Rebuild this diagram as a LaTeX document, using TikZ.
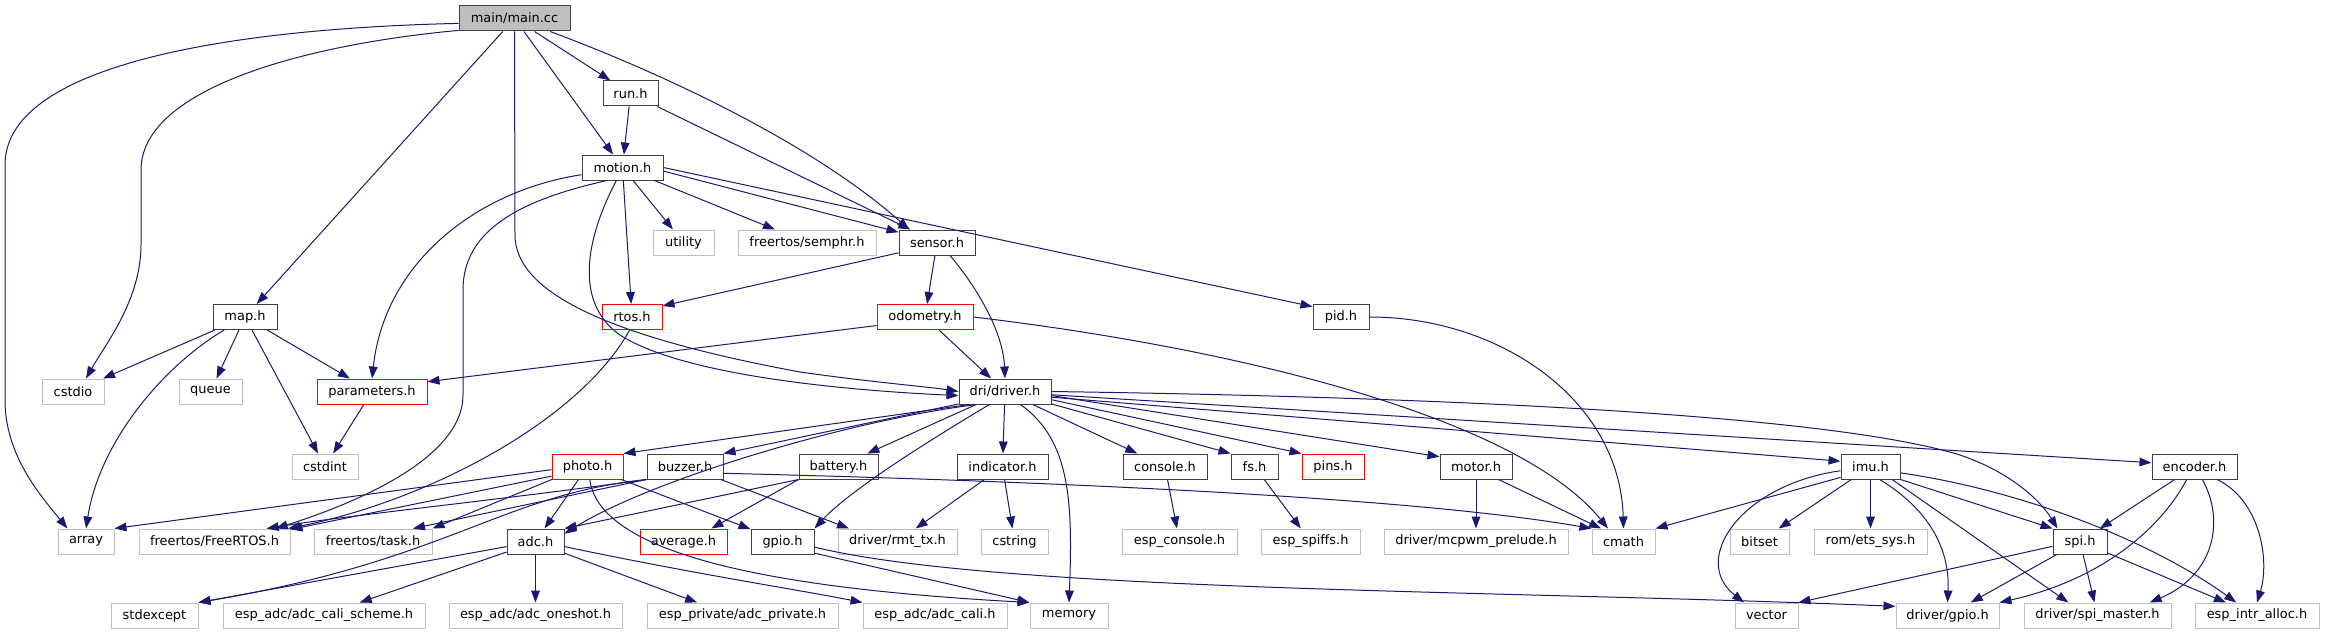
\documentclass[tikz,border=0pt]{standalone}
\usepackage{fontspec}
\setmainfont{DejaVu Sans}
\usetikzlibrary{arrows.meta}
\definecolor{edgec}{RGB}{25,25,112}
\definecolor{extc}{RGB}{191,191,191}
\definecolor{mainf}{RGB}{191,191,191}
\definecolor{knownc}{RGB}{64,64,64}
\definecolor{truncc}{RGB}{255,0,0}
\begin{document}
\begin{tikzpicture}[x=0.75pt,y=-0.75pt,
 box/.style={draw, line width=0.75pt, minimum height=18.75pt, inner sep=0pt, font=\fontsize{9.7}{11}\selectfont, text=black},
 bw/.style={minimum width=#1*0.75pt},
 known/.style={box, draw=knownc, fill=white},
 ext/.style={box, draw=extc, fill=white},
 trunc/.style={box, draw=truncc, fill=white},
 mainbox/.style={box, draw=knownc, fill=mainf},
 dep/.style={draw=edgec, line width=0.75pt, -{Triangle[length=9pt,width=6.5pt]}},
]
\useasboundingbox (0,0) rectangle (2325,635);
% nodes
\node[mainbox,bw=111] (main) at (514.5,18.5) {main/main.cc};
\node[known,bw=55] (run) at (630.5,93.5) {run.h};
\node[known,bw=81] (motion) at (622.5,167.5) {motion.h};
\node[ext,bw=61] (utility) at (683.5,242.5) {utility};
\node[ext,bw=138] (semphr) at (807,242.5) {freertos/semphr.h};
\node[known,bw=76] (sensor) at (937,242.5) {sensor.h};
\node[known,bw=64] (map) at (245,317) {map.h};
\node[trunc,bw=60] (rtos) at (632,317) {rtos.h};
\node[trunc,bw=96] (odom) at (925,317) {odometry.h};
\node[known,bw=56] (pid) at (1341,317) {pid.h};
\node[ext,bw=62] (cstdio) at (73,391.5) {cstdio};
\node[ext,bw=63] (queue) at (210.5,391.5) {queue};
\node[trunc,bw=110] (params) at (372,391.5) {parameters.h};
\node[known,bw=92] (driver) at (1005,391.5) {dri/driver.h};
\node[ext,bw=66] (cstdint) at (325,466.5) {cstdint};
\node[trunc,bw=71] (photo) at (587.5,466.5) {photo.h};
\node[known,bw=76] (buzzer) at (685,466.5) {buzzer.h};
\node[known,bw=79] (battery) at (838.5,466.5) {battery.h};
\node[known,bw=91] (indicator) at (1002.5,466.5) {indicator.h};
\node[known,bw=84] (console) at (1165,466.5) {console.h};
\node[known,bw=47] (fs) at (1254.5,466.5) {fs.h};
\node[trunc,bw=62] (pins) at (1333,466.5) {pins.h};
\node[known,bw=72] (motor) at (1476,466.5) {motor.h};
\node[known,bw=59] (imu) at (1870.5,466.5) {imu.h};
\node[known,bw=85] (encoder) at (2194.5,466.5) {encoder.h};
\node[ext,bw=56] (array) at (86,541.5) {array};
\node[ext,bw=151] (freertos) at (214.5,541.5) {freertos/FreeRTOS.h};
\node[ext,bw=118] (task) at (373,541.5) {freertos/task.h};
\node[known,bw=57] (adc) at (535.5,541.5) {adc.h};
\node[trunc,bw=87] (average) at (683.5,541.5) {average.h};
\node[known,bw=63] (gpio) at (782.5,541.5) {gpio.h};
\node[ext,bw=119] (rmt) at (897.5,541.5) {driver/rmt\_tx.h};
\node[ext,bw=67] (cstring) at (1014.5,541.5) {cstring};
\node[ext,bw=115] (espconsole) at (1179.5,541.5) {esp\_console.h};
\node[ext,bw=99] (spiffs) at (1310.5,541.5) {esp\_spiffs.h};
\node[ext,bw=184] (mcpwm) at (1476,541.5) {driver/mcpwm\_prelude.h};
\node[ext,bw=63] (cmath) at (1623.5,541.5) {cmath};
\node[ext,bw=59] (bitset) at (1759.5,541.5) {bitset};
\node[ext,bw=113] (ets) at (1870.5,541.5) {rom/ets\_sys.h};
\node[known,bw=54] (spi) at (2080,541.5) {spi.h};
\node[ext,bw=87] (stdexcept) at (154.5,615.5) {stdexcept};
\node[ext,bw=202] (calischeme) at (324,615.5) {esp\_adc/adc\_cali\_scheme.h};
\node[ext,bw=173] (oneshot) at (535.5,615.5) {esp\_adc/adc\_oneshot.h};
\node[ext,bw=191] (adcpriv) at (742.5,615.5) {esp\_private/adc\_private.h};
\node[ext,bw=144] (cali) at (935,615.5) {esp\_adc/adc\_cali.h};
\node[ext,bw=78] (memory) at (1069,615.5) {memory};
\node[ext,bw=63] (vector) at (1766.5,615.5) {vector};
\node[ext,bw=103] (drvgpio) at (1947.5,615.5) {driver/gpio.h};
\node[ext,bw=147] (spimaster) at (2097.5,615.5) {driver/spi\_master.h};
\node[ext,bw=124] (intr) at (2257,615.5) {esp\_intr\_alloc.h};
% main.cc
\draw[dep] (main.185) .. controls (250,28) and (5,60) .. (5,165) -- (5,400) .. controls (5,455) and (40,495) .. (array.145);
\draw[dep] (main.192) .. controls (300,45) and (141,90) .. (141,170) -- (141,245) .. controls (141,300) and (105,345) .. (cstdio.45);
\draw[dep] (main) -- (map);
\draw[dep] (main.south) -- (515,235) .. controls (515,290) and (600,335) .. (800,372) .. controls (870,382) and (930,387) .. (driver.west);
\draw[dep] (main) -- (motion);
\draw[dep] (main) -- (run);
\draw[dep] (main.-20) .. controls (680,80) and (820,150) .. (sensor.155);
% run.h
\draw[dep] (run) -- (motion);
\draw[dep] (run) -- (sensor);
% motion.h
\draw[dep] (motion.190) .. controls (480,190) and (385,260) .. (params.north);
\draw[dep] (motion.220) .. controls (520,200) and (463,230) .. (463,290) -- (463,395) .. controls (463,460) and (350,505) .. (freertos.12);
\draw[dep] (motion.245) .. controls (590,230) and (570,300) .. (620,335) .. controls (690,380) and (880,392) .. (driver.185);
\draw[dep] (motion) -- (rtos);
\draw[dep] (motion) -- (utility);
\draw[dep] (motion) -- (semphr);
\draw[dep] (motion.-5) -- (sensor.165);
\draw[dep] (motion.east) -- (pid.160);
% sensor.h
\draw[dep] (sensor.195) -- (rtos.20);
\draw[dep] (sensor) -- (odom);
\draw[dep] (sensor.-45) .. controls (975,285) and (1003,330) .. (driver.north);
% map.h
\draw[dep] (map) -- (cstdio);
\draw[dep] (map) -- (queue);
\draw[dep] (map.212) .. controls (165,365) and (100,440) .. (array.north);
\draw[dep] (map) -- (cstdint);
\draw[dep] (map) -- (params);
\draw[dep] (params) -- (cstdint);
% rtos.h
\draw[dep] (rtos.-100) .. controls (580,420) and (430,500) .. (freertos.10);
% odometry.h
\draw[dep] (odom.190) -- (params.10);
\draw[dep] (odom) -- (driver);
\draw[dep] (odom.east) .. controls (1250,350) and (1520,420) .. (cmath.140);
% pid.h
\draw[dep] (pid.east) .. controls (1500,317) and (1620,400) .. (cmath.north);
% driver.h
\draw[dep] (driver.200) -- (photo.north east);
\draw[dep] (driver.195) -- (buzzer.north east);
\draw[dep] (driver.205) .. controls (850,420) and (650,480) .. (adc.15);
\draw[dep] (driver) -- (battery);
\draw[dep] (driver.-140) .. controls (930,440) and (850,490) .. (gpio.north east);
\draw[dep] (driver) -- (indicator);
\draw[dep] (driver.-40) .. controls (1070,440) and (1073,500) .. (memory.north);
\draw[dep] (driver) -- (console);
\draw[dep] (driver.-15) -- (fs.north west);
\draw[dep] (driver.-10) -- (pins.north west);
\draw[dep] (driver.-5) -- (motor.165);
\draw[dep] (driver.-7) -- (imu.170);
\draw[dep] (driver.-4) -- (encoder.175);
\draw[dep] (driver.east) .. controls (1500,398) and (1840,418) .. (1960,455) .. controls (2010,472) and (2040,500) .. (spi.150);
% photo.h
\draw[dep] (photo.185) -- (array.north east);
\draw[dep] (photo.195) -- (freertos.9);
\draw[dep] (photo.200) -- (task.north east);
\draw[dep] (photo) -- (adc);
\draw[dep] (photo) -- (gpio);
\draw[dep] (photo.-80) .. controls (600,560) and (800,590) .. (memory.north west);
% buzzer.h
\draw[dep] (buzzer.south west) .. controls (500,500) and (350,515) .. (freertos.14);
\draw[dep] (buzzer.south west) -- (task.18);
\draw[dep] (buzzer.-10) .. controls (1000,480) and (1400,495) .. (cmath.north west);
\draw[dep] (buzzer.-20) -- (rmt.165);
\draw[dep] (buzzer.south west) .. controls (500,495) and (450,560) .. (stdexcept.north east);
% battery.h
\draw[dep] (battery.south west) -- (adc.north east);
\draw[dep] (battery.south west) -- (average.25);
% adc.h
\draw[dep] (adc.190) -- (stdexcept.north east);
\draw[dep] (adc.200) -- (calischeme.20);
\draw[dep] (adc) -- (oneshot);
\draw[dep] (adc.-22) -- (adcpriv.164);
\draw[dep] (adc.-10) .. controls (700,575) and (800,590) .. (cali.north west);
% gpio.h
\draw[dep] (gpio.-20) -- (memory.north west);
\draw[dep] (gpio.-10) .. controls (1000,592) and (1500,590) .. (drvgpio.170);
% indicator, console, fs, motor
\draw[dep] (indicator) -- (rmt);
\draw[dep] (indicator) -- (cstring);
\draw[dep] (console) -- (espconsole);
\draw[dep] (fs) -- (spiffs);
\draw[dep] (motor) -- (mcpwm);
\draw[dep] (motor.-30) -- (cmath.150);
% imu.h
\draw[dep] (imu.200) -- (cmath.north east);
\draw[dep] (imu.188) .. controls (1740,485) and (1690,560) .. (vector.150);
\draw[dep] (imu) -- (bitset);
\draw[dep] (imu) -- (ets);
\draw[dep] (imu.-55) .. controls (1930,510) and (1950,550) .. (drvgpio.north);
\draw[dep] (imu.-31) -- (spimaster.156);
\draw[dep] (imu.south east) -- (spi.north west);
\draw[dep] (imu.-12) .. controls (2020,490) and (2150,540) .. (intr.148);
% encoder.h
\draw[dep] (encoder) -- (spi);
\draw[dep] (encoder.-121) .. controls (2160,530) and (2100,580) .. (drvgpio.north east);
\draw[dep] (encoder.-59) .. controls (2225,520) and (2215,575) .. (spimaster.14);
\draw[dep] (encoder.-30) .. controls (2260,500) and (2270,560) .. (intr.north);
% spi.h
\draw[dep] (spi.190) -- (vector.north east);
\draw[dep] (spi) -- (drvgpio);
\draw[dep] (spi) -- (spimaster);
\draw[dep] (spi) -- (intr);
\end{tikzpicture}
\end{document}
